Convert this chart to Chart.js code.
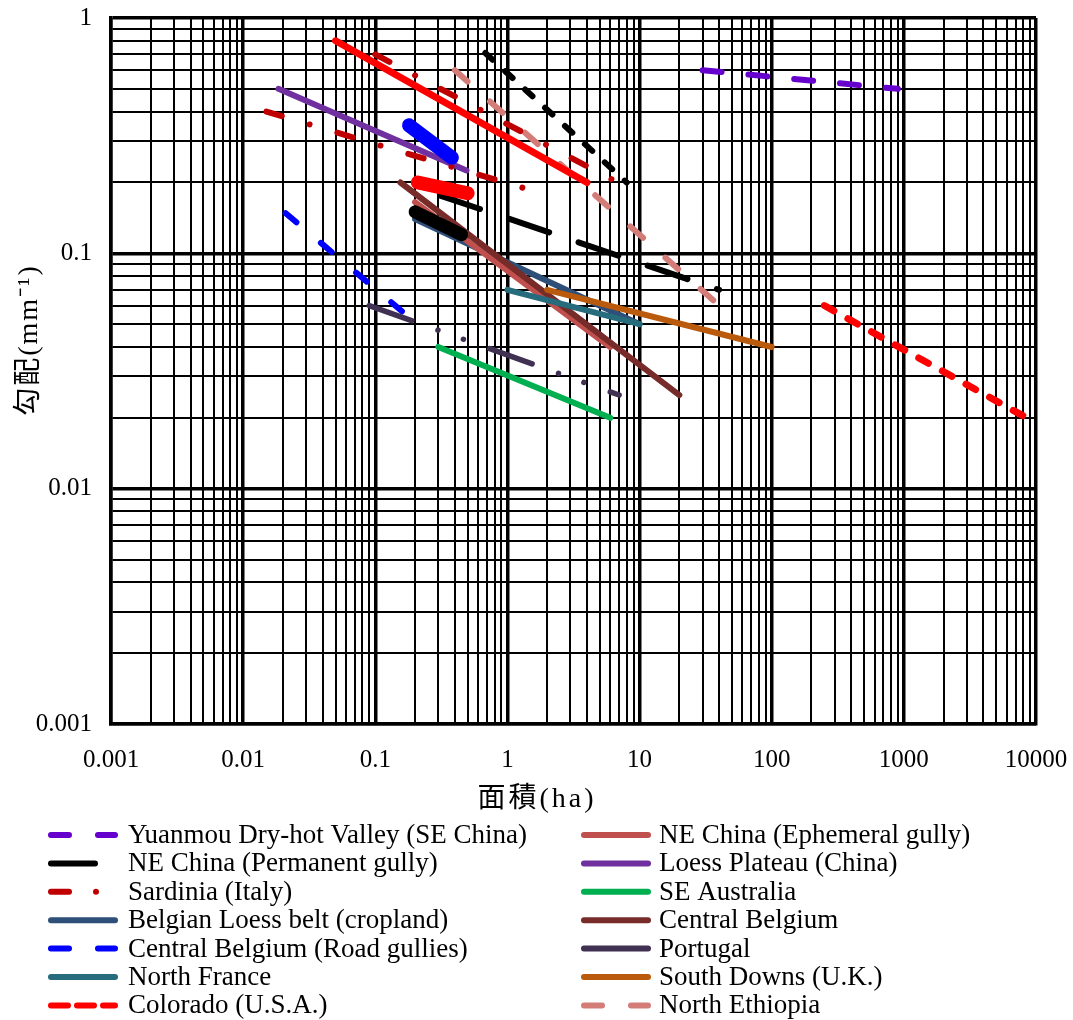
<!DOCTYPE html>
<html>
<head>
<meta charset="utf-8">
<script src="https://cdn.jsdelivr.net/npm/chart.js@4/dist/chart.umd.min.js"></script>
<style>
  body { margin: 0; background: #fff; }
  canvas { display: block; }
</style>
</head>
<body>
<canvas id="chart" width="1073" height="1020"></canvas>
<script>
// end points (面積 ha, 勾配 mm-1) of each gully line
const yuanmouArea = [30, 900];
const yuanmouSlope = [0.6, 0.5];
const permanentArea = [0.68, 8];
const permanentSlope = [0.71, 0.2];
const permanentArea2 = [0.31, 40];
const permanentSlope2 = [0.176, 0.07];
const sardiniaArea = [0.1, 6.3];
const sardiniaSlope = [0.7, 0.205];
const sardiniaArea2 = [0.015, 1.3];
const sardiniaSlope2 = [0.4, 0.19];
const loessBeltArea = [0.2, 10];
const loessBeltSlope = [0.14, 0.05];
const roadArea = [0.021, 0.17];
const roadSlope = [0.148, 0.055];
const franceArea = [1, 10];
const franceSlope = [0.07, 0.05];
const coloradoArea = [250, 8500];
const coloradoSlope = [0.06, 0.02];
const ephemeralArea = [0.2, 6];
const ephemeralSlope = [0.165, 0.04];
const plateauArea = [0.0185, 0.49];
const plateauSlope = [0.5, 0.225];
const australiaArea = [0.3, 6];
const australiaSlope = [0.04, 0.02];
const belgiumArea = [0.155, 20];
const belgiumSlope = [0.2, 0.025];
const portugalArea = [0.09, 7];
const portugalSlope = [0.06, 0.025];
const downsArea = [2, 100];
const downsSlope = [0.07, 0.04];
const ethiopiaArea = [0.4, 40];
const ethiopiaSlope = [0.6, 0.06];
const redLineArea = [0.05, 4];
const redLineSlope = [0.8, 0.2];
const blueBandArea = [0.18, 0.38];
const blueBandSlope = [0.35, 0.255];
const redBandArea = [0.21, 0.5];
const redBandSlope = [0.2, 0.18];
const blackBandArea = [0.2, 0.45];
const blackBandSlope = [0.15, 0.12];

const areaTickLabels = ['0.001', '0.01', '0.1', '1', '10', '100', '1000', '10000'];
const slopeTickLabels = ['0.001', '0.01', '0.1', '1'];
const xTitle = '面積(ha)';
const yTitle = '勾配(mm⁻¹)';

const legendNames = [
    'Yuanmou Dry-hot Valley (SE China)',
    'NE China (Permanent gully)',
    'Sardinia (Italy)',
    'Belgian Loess belt (cropland)',
    'Central Belgium (Road gullies)',
    'North France',
    'Colorado (U.S.A.)',
    'NE China (Ephemeral gully)',
    'Loess Plateau (China)',
    'SE Australia',
    'Central Belgium',
    'Portugal',
    'South Downs (U.K.)',
    'North Ethiopia'
];

const colors = {
    yuanmou: '#6600CC',
    permanent: '#000000',
    sardinia: '#C00000',
    loessBelt: '#2E4F78',
    road: '#0000FF',
    france: '#276C7C',
    colorado: '#FF0000',
    ephemeral: '#C0504D',
    plateau: '#7030A0',
    australia: '#00B050',
    belgium: '#772C2A',
    portugal: '#403152',
    downs: '#BA5A0C',
    ethiopia: '#D47C78'
};

const legendColors = [colors.yuanmou, colors.permanent, colors.sardinia, colors.loessBelt,
    colors.road, colors.france, colors.colorado, colors.ephemeral, colors.plateau,
    colors.australia, colors.belgium, colors.portugal, colors.downs, colors.ethiopia];
const legendDashes = [[18, 29], [44, 40], [18, 27, 0.001, 40], [], [18, 29], [], [17, 9],
    [], [], [], [], [], [], [18, 29]];

const FONT = '"Liberation Serif", "Noto Sans CJK JP", serif';

function line(area, slope, color, width, dash) {
    return {
        label: '',
        data: area.map((a, i) => ({x: a, y: slope[i]})),
        showLine: true,
        borderColor: color,
        backgroundColor: color,
        borderWidth: width,
        borderDash: dash || [],
        borderCapStyle: 'round',
        pointRadius: 0,
        pointHoverRadius: 0
    };
}

// first dataset ends up on top
const datasets = [
    line(blueBandArea, blueBandSlope, '#0000FF', 14),
    line(redBandArea, redBandSlope, '#FF0000', 14),
    line(blackBandArea, blackBandSlope, '#000000', 13),
    line(sardiniaArea, sardiniaSlope, colors.sardinia, 6, [16, 29, 0.001, 29]),
    line(sardiniaArea2, sardiniaSlope2, colors.sardinia, 6, [16, 29, 0.001, 29]),
    line(permanentArea, permanentSlope, colors.permanent, 6, [10, 17]),
    line(permanentArea2, permanentSlope2, colors.permanent, 6, [42, 31]),
    line(redLineArea, redLineSlope, '#FF0000', 7),
    line(ethiopiaArea, ethiopiaSlope, colors.ethiopia, 6, [17, 30]),
    line(plateauArea, plateauSlope, colors.plateau, 6),
    line(downsArea, downsSlope, colors.downs, 6),
    line(franceArea, franceSlope, colors.france, 6),
    line(belgiumArea, belgiumSlope, colors.belgium, 6),
    line(ephemeralArea, ephemeralSlope, colors.ephemeral, 6),
    line(loessBeltArea, loessBeltSlope, colors.loessBelt, 6),
    line(australiaArea, australiaSlope, colors.australia, 6),
    line(portugalArea, portugalSlope, colors.portugal, 5.5, [45, 28, 0.001, 27, 0.001, 28]),
    line(roadArea, roadSlope, colors.road, 6, [14, 32]),
    line(coloradoArea, coloradoSlope, colors.colorado, 7, [11, 16]),
    line(yuanmouArea, yuanmouSlope, colors.yuanmou, 6, [19, 27])
];

// 1..9 x 10^e grid positions
function decadeTicks(fromExp, toExp) {
    const ticks = [];
    for (let e = fromExp; e < toExp; e++) {
        for (let s = 1; s <= 9; s++) {
            ticks.push({value: parseFloat((s * Math.pow(10, e)).toPrecision(3))});
        }
    }
    ticks.push({value: Math.pow(10, toExp)});
    return ticks;
}

function isDecade(v) {
    const e = Math.log10(v);
    return Math.abs(e - Math.round(e)) < 1e-9;
}

function gridWidth(ctx) {
    return ctx.tick && isDecade(ctx.tick.value) ? 3.5 : 2;
}

// keep the plot box fixed, tick labels may overhang it
function noPadding(scale) {
    scale.paddingTop = 0;
    scale.paddingBottom = 0;
    scale.paddingLeft = 0;
    scale.paddingRight = 0;
}

// axis titles and the two column legend
const annotate = {
    id: 'annotate',
    afterDraw(chart) {
        const ctx = chart.ctx;
        ctx.save();
        ctx.fillStyle = '#000';
        ctx.textAlign = 'center';
        ctx.textBaseline = 'middle';
        ctx.font = '28px ' + FONT;
        ctx.letterSpacing = '3px';
        ctx.fillText(xTitle, 537, 800);
        ctx.save();
        ctx.translate(30, 340);
        ctx.rotate(-Math.PI / 2);
        ctx.letterSpacing = '2px';
        ctx.fillText(yTitle, 0, 0);
        ctx.restore();

        ctx.letterSpacing = '0px';
        ctx.textAlign = 'left';
        ctx.font = '27px ' + FONT;
        ctx.lineCap = 'round';
        ctx.lineWidth = 6;
        legendNames.forEach((name, i) => {
            const col = Math.floor(i / 7);
            const y = 835 + (i % 7) * 28.4;
            const x0 = col ? 584 : 51;
            ctx.strokeStyle = legendColors[i];
            ctx.setLineDash(legendDashes[i]);
            ctx.beginPath();
            ctx.moveTo(x0, y);
            ctx.lineTo(x0 + 64, y);
            ctx.stroke();
            ctx.setLineDash([]);
            ctx.fillText(name, col ? 659 : 128, y + 1);
        });
        ctx.restore();
    }
};

new Chart(document.getElementById('chart'), {
    type: 'scatter',
    data: {datasets: datasets},
    plugins: [annotate],
    options: {
        responsive: false,
        animation: false,
        events: [],
        layout: {padding: {left: 0, right: 37, top: 18, bottom: 201}},
        plugins: {
            legend: {display: false},
            tooltip: {enabled: false}
        },
        scales: {
            x: {
                type: 'logarithmic',
                min: 0.001,
                max: 10000,
                afterBuildTicks: scale => { scale.ticks = decadeTicks(-3, 4); },
                afterFit: scale => { scale.height = 95; noPadding(scale); },
                ticks: {
                    autoSkip: false,
                    maxRotation: 0,
                    padding: 21,
                    color: '#000',
                    font: {family: FONT, size: 25},
                    callback: v => isDecade(v) ? areaTickLabels[Math.round(Math.log10(v)) + 3] : ''
                },
                grid: {color: '#000', lineWidth: gridWidth, drawTicks: false},
                border: {color: '#000', width: 3.5}
            },
            y: {
                type: 'logarithmic',
                min: 0.001,
                max: 1,
                afterBuildTicks: scale => { scale.ticks = decadeTicks(-3, 0); },
                afterFit: scale => { scale.width = 111; noPadding(scale); },
                ticks: {
                    autoSkip: false,
                    padding: 19,
                    color: '#000',
                    font: {family: FONT, size: 25},
                    callback: v => isDecade(v) ? slopeTickLabels[Math.round(Math.log10(v)) + 3] : ''
                },
                grid: {color: '#000', lineWidth: gridWidth, drawTicks: false},
                border: {color: '#000', width: 3.5}
            }
        }
    }
});
</script>
</body>
</html>
